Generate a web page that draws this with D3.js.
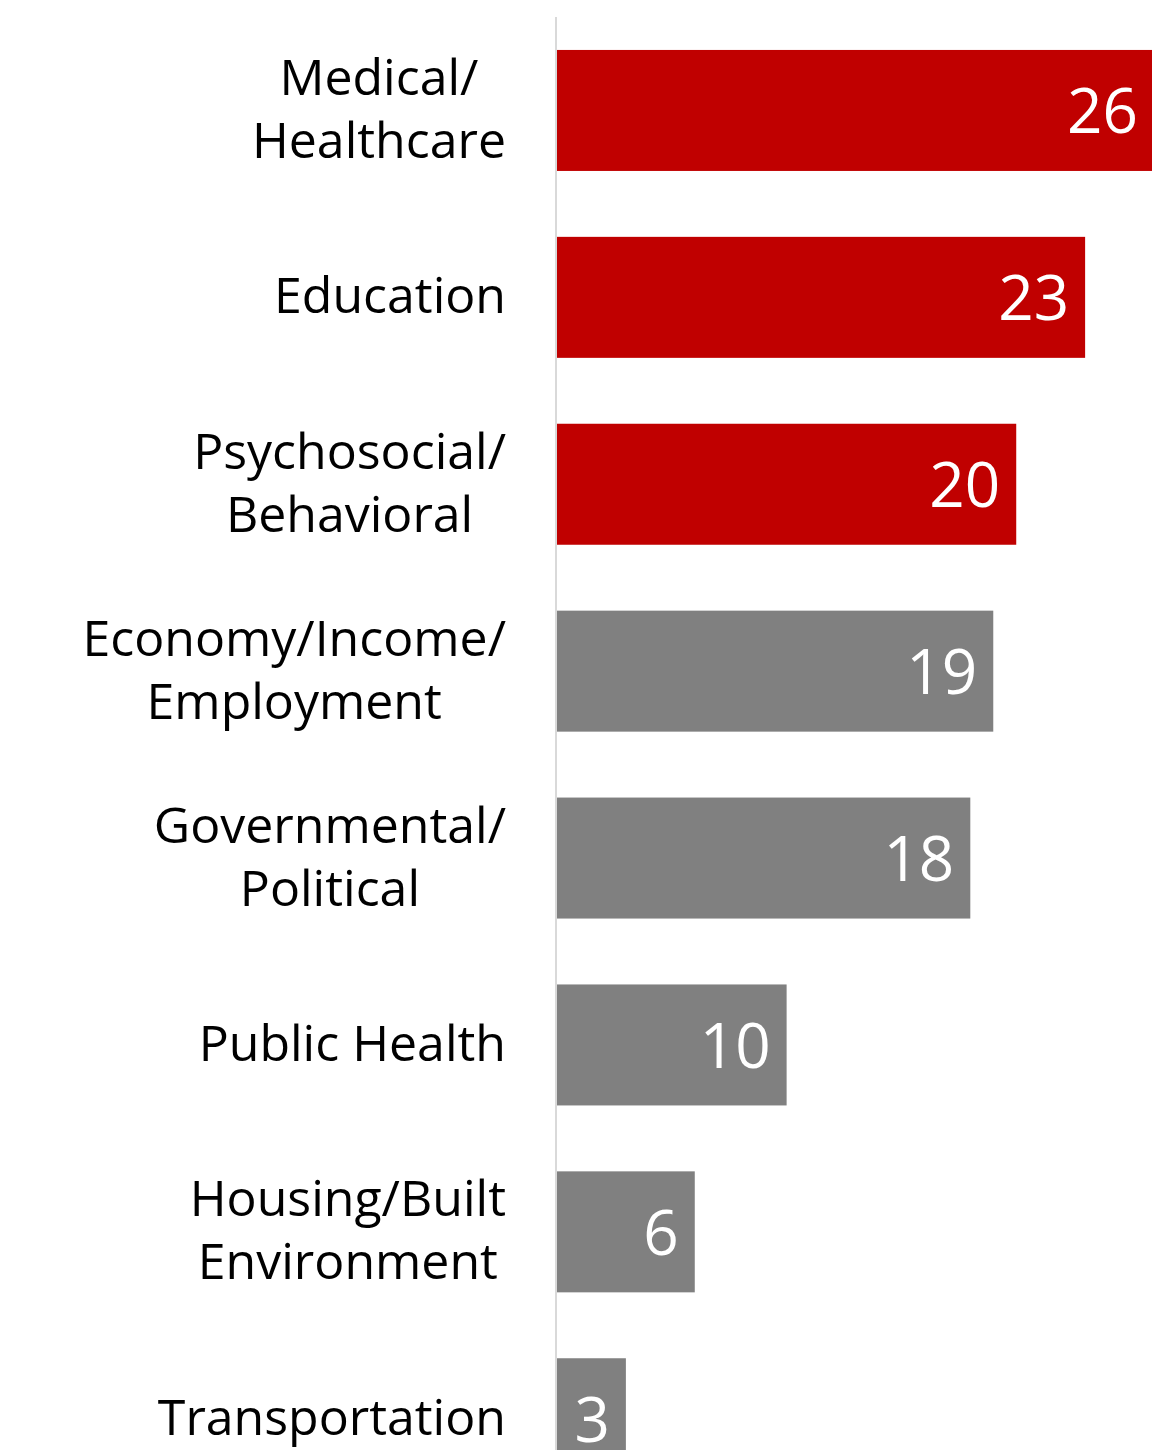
<!DOCTYPE html>
<html>
<head>
<meta charset="utf-8">
<script src="https://cdn.jsdelivr.net/npm/d3@7"></script>
<style>
  html, body { margin: 0; padding: 0; background: #ffffff; }
  svg { display: block; }
</style>
</head>
<body>
<div id="chart"></div>
<script>
const categories = [
  ["Medical/", "Healthcare"],
  ["Education"],
  ["Psychosocial/", "Behavioral"],
  ["Economy/Income/", "Employment"],
  ["Governmental/", "Political"],
  ["Public Health"],
  ["Housing/Built", "Environment"],
  ["Transportation"]
];
const values = [26, 23, 20, 19, 18, 10, 6, 3];
const highlighted = [true, true, true, false, false, false, false, false];

const W = 1152, H = 1450;
const FONT = "'Open Sans', 'Noto Sans', sans-serif";

const svg = d3.select("#chart").append("svg")
  .attr("width", W).attr("height", H);

const keys = categories.map((c, i) => i);
const x = d3.scaleLinear().domain([0, 26]).range([557, 1154]);
const y = d3.scaleBand().domain(keys).range([17, 17 + 8 * 186.9])
  .paddingInner(0.3526).paddingOuter(0.1763);

// bars
svg.selectAll("rect.bar").data(values).join("rect")
  .attr("class", "bar")
  .attr("x", x(0))
  .attr("y", (d, i) => y(i))
  .attr("width", d => x(d) - x(0))
  .attr("height", y.bandwidth())
  .attr("fill", (d, i) => highlighted[i] ? "#C00000" : "#808080");

// axis line
const axis = d3.axisLeft(y).tickSize(0).tickFormat("");
svg.append("g").attr("transform", `translate(${x(0) - 1},0)`).call(axis)
  .call(g => g.select(".domain").attr("stroke", "#d9d9d9").attr("stroke-width", 2)
    .attr("d", `M0,17V${H}`));

// value labels
svg.selectAll("text.val").data(values).join("text")
  .attr("class", "val")
  .attr("x", d => x(d) - 16)
  .attr("y", (d, i) => y(i) + y.bandwidth() / 2 + 23)
  .attr("text-anchor", "end")
  .attr("fill", "#ffffff")
  .style("font-family", FONT)
  .style("font-size", "62px")
  .text(d => d);

// category labels
const lineH = 63;
const labelRight = 506;
categories.forEach((lines, i) => {
  const cy = y(i) + y.bandwidth() / 2;
  const g = svg.append("g");
  const texts = lines.map((ln, j) => g.append("text")
    .attr("y", cy + 16 + (j - (lines.length - 1) / 2) * lineH)
    .attr("fill", "#000000")
    .style("font-family", FONT)
    .style("font-size", "50px")
    .text(ln));
  const maxW = d3.max(texts, t => t.node().getComputedTextLength());
  texts.forEach(t => t.attr("x", labelRight - maxW / 2).attr("text-anchor", "middle"));
});
</script>
</body>
</html>
